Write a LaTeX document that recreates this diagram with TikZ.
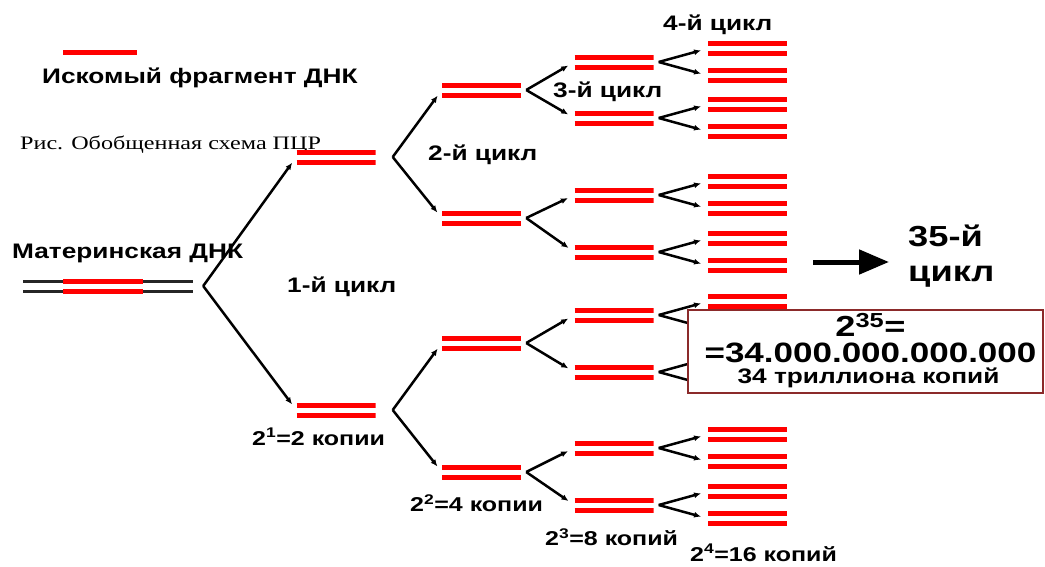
\documentclass[tikz,border=0pt]{standalone}
\usepackage{fontspec}
\setmainfont{Liberation Serif}[FakeStretch=1.27]
\newfontfamily\arial{Liberation Sans}[FakeStretch=1.25]
\usetikzlibrary{calc}
\usetikzlibrary{arrows.meta}

\definecolor{boxred}{HTML}{8B2A2A}

\begin{document}
\begin{tikzpicture}[x=1pt, y=-1pt,
    dna/.style={minimum width=79pt, minimum height=15pt, inner sep=0pt,
        path picture={
            \foreach \d in {-5,5}
                \draw[red, line width=5pt] ($(path picture bounding box.west)+(0,\d)$) -- ($(path picture bounding box.east)+(0,\d)$);
        }},
    branch/.style={line width=2.5pt, -{Latex[length=7pt,width=6pt]}, shorten >=7pt},
    lbl/.style={anchor=west, inner sep=0pt, font=\arial\bfseries\fontsize{21}{24}\selectfont},
    copies/.style={anchor=west, inner sep=0pt, font=\arial\bfseries\fontsize{20}{24}\selectfont}]
    \useasboundingbox (0,0) rectangle (1045,566);

    % legend and caption
    \draw[red, line width=5pt] (63,52) -- (137,52);
    \node[lbl] (legend) at (42,78) {Искомый фрагмент ДНК};
    \node[anchor=west, inner sep=0pt, font=\fontsize{19}{22}\selectfont] (caption) at (20,145) {Рис. Обобщенная схема ПЦР};

    % mother DNA
    \node[minimum width=170pt, minimum height=15pt, inner sep=0pt,
        path picture={
            \foreach \d in {-5,5}
            {
                \draw[black!85, line width=3pt] ($(path picture bounding box.west)+(0,\d)$) -- ($(path picture bounding box.east)+(0,\d)$);
                \draw[red, line width=5pt] ($(path picture bounding box.west)+(40,\d)$) -- ($(path picture bounding box.west)+(120,\d)$);
            }
        }] (m) at (108,286) {};
    \node[lbl] (mlabel) at (12,253) {Материнская ДНК};
    \coordinate (m-f) at ($(m.east)+(10,0)$);

    % 1st cycle
    \foreach \y[count=\i from 1] in {157,410}
    {
        \node[dna] (a\i) at (336,\y) {};
        \draw[branch] (m-f) -- (a\i.west);
    }

    % 2nd cycle
    \foreach \y[count=\i from 1] in {90,218,343,472}
    {
        \pgfmathtruncatemacro{\p}{(\i+1)/2}
        \node[dna] (b\i) at (481.5,\y) {};
        \draw[branch] ($(a\p.east)+(17,0)$) -- (b\i.west);
    }

    % 3rd cycle
    \foreach \y[count=\i from 1] in {62,118,195,252,315,372,448,505}
    {
        \pgfmathtruncatemacro{\p}{(\i+1)/2}
        \node[dna] (c\i) at (614,\y) {};
        \draw[branch] ($(b\p.east)+(5,0)$) -- (c\i.west);
    }

    % 4th cycle
    \foreach \i in {1,...,8}
    {
        \coordinate (c\i-f) at ($(c\i.east)+(5,0)$);
        \node[dna] (d\i-1) at ($(c\i)+(133.5,-13.5)$) {};
        \node[dna] (d\i-2) at ($(c\i)+(133.5,13.5)$) {};
        \draw[branch] (c\i-f) -- (d\i-1.west);
        \draw[branch] (c\i-f) -- (d\i-2.west);
    }

    % cycle labels
    \node[lbl] (cyc1) at (287,287) {1-й цикл};
    \node[lbl] (cyc2) at (428,155) {2-й цикл};
    \node[lbl] (cyc3) at (553,92) {3-й цикл};
    \node[lbl] (cyc4) at (663,25) {4-й цикл};

    % copy counts
    \node[copies] (n1) at (252,437) {2\textsuperscript{1}=2 копии};
    \node[copies] (n2) at (410,503) {2\textsuperscript{2}=4 копии};
    \node[copies] (n3) at (545,537) {2\textsuperscript{3}=8 копий};
    \node[copies] (n4) at (690,553) {2\textsuperscript{4}=16 копий};

    % 35th cycle
    \node[anchor=west, inner sep=0pt, align=left, font=\arial\bfseries\fontsize{29}{35}\selectfont] (cyc35) at (908,256) {35-й\\цикл};
    \coordinate (arr) at (813,262);
    \coordinate (arr-end) at (889,262);
    \draw[line width=5pt, -{Triangle[length=30pt,width=24pt]}] (arr) -- (arr-end);

    % total box
    \node[draw=boxred, fill=white, line width=1.5pt, minimum width=355pt, minimum height=83pt] (total) at (865.5,351.5) {};
    \node[inner sep=0pt, font=\arial\bfseries\fontsize{29}{35}\selectfont] (t1) at ($(total.center)+(5,-27)$) {2\textsuperscript{35}=};
    \node[inner sep=0pt, font=\arial\bfseries\fontsize{28}{34}\selectfont] (t2) at ($(total.center)+(5,1)$) {=34.000.000.000.000};
    \node[inner sep=0pt, font=\arial\bfseries\fontsize{21}{24}\selectfont] (t3) at ($(total.center)+(3,26)$) {34 триллиона копий};
\end{tikzpicture}
\end{document}
